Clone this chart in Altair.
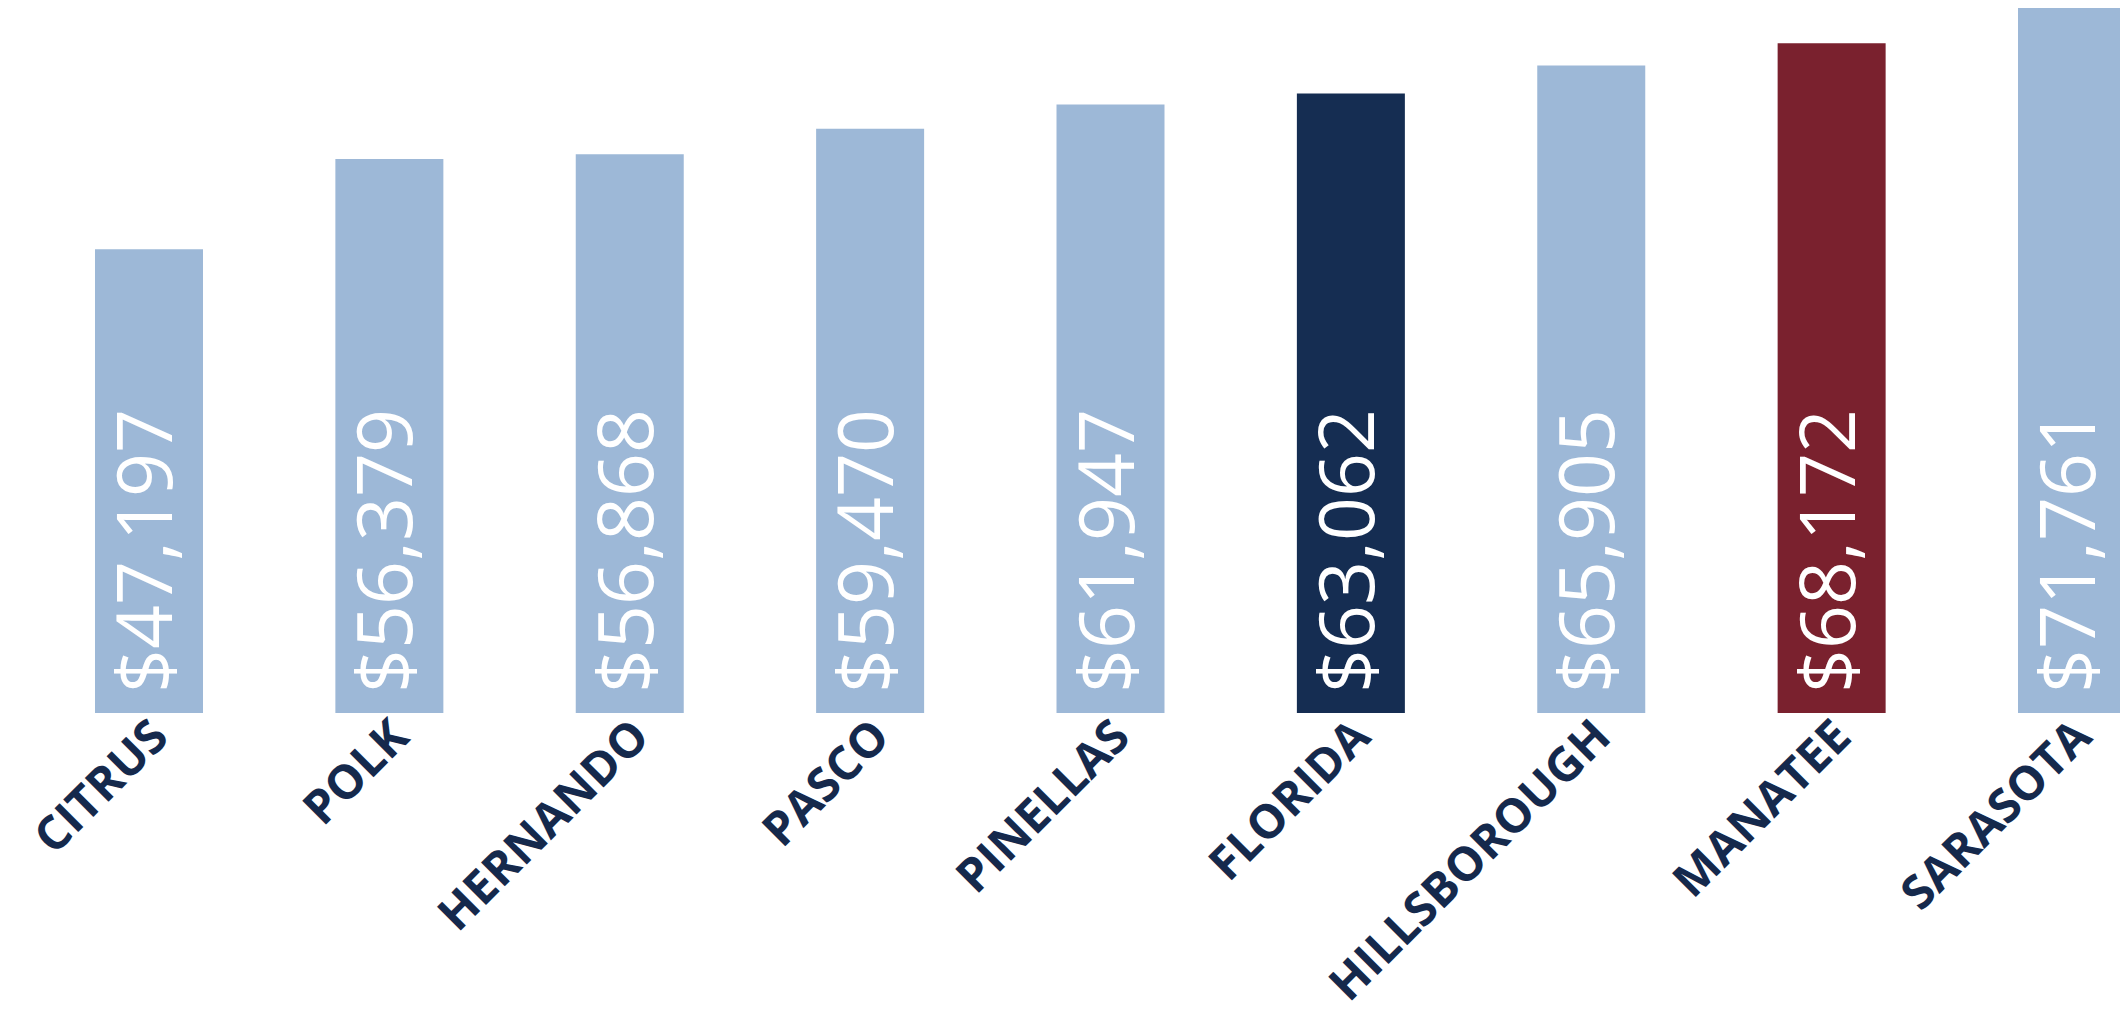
import altair as alt
import pandas as pd

counties = ["CITRUS", "POLK", "HERNANDO", "PASCO", "PINELLAS",
            "FLORIDA", "HILLSBOROUGH", "MANATEE", "SARASOTA"]
incomes = [47197, 56379, 56868, 59470, 61947, 63062, 65905, 68172, 71761]

light = "#9db8d7"
bar_colors = [light, light, light, light, light, "#152d52", light, "#7a212e", light]

df = pd.DataFrame({"county": counties, "income": incomes})

x_enc = alt.X(
    "county:N",
    sort=counties,
    scale=alt.Scale(range=[0, 2205], paddingInner=0.5507, paddingOuter=0.3619),
    axis=alt.Axis(
        title=None, domain=False, ticks=False, grid=False,
        labelAngle=-45, labelAlign="right", labelBaseline="middle",
        labelPadding=16, labelOffset=12, labelFont="Open Sans", labelFontSize=47,
        labelFontWeight="bold", labelColor="#15294c", labelLimit=1000,
        labelOverlap=False,
    ),
)
y_scale = alt.Scale(domain=[0, max(incomes)], nice=False, zero=True)

bars = alt.Chart(df).mark_bar().encode(
    x=x_enc,
    y=alt.Y("income:Q", scale=y_scale, axis=None),
    color=alt.Color("county:N", scale=alt.Scale(domain=counties, range=bar_colors), legend=None),
)

labels = alt.Chart(df).mark_text(
    angle=270, align="left", baseline="middle", dx=20,
    font="Open Sans", fontSize=77, fontWeight=500, color="white",
).encode(
    x=x_enc,
    y=alt.datum(0, scale=y_scale),
    text=alt.Text("income:Q", format="$,.0f"),
)

chart = alt.layer(bars, labels).properties(
    width=2112, height=705,
    background="white",
    autosize=alt.AutoSizeParams(type="none"),
    padding={"left": 0, "top": 0, "right": 0, "bottom": 304},
).configure_view(strokeWidth=0, stroke="transparent")

chart.save("out.html", embed_options={"renderer": "svg", "actions": False})
